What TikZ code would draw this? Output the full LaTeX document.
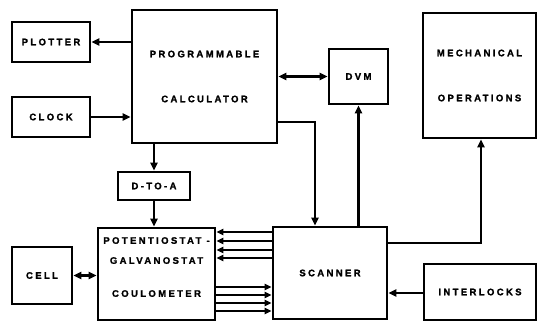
\documentclass[tikz,border=0pt]{standalone}
\usepackage{fontspec}
\newfontfamily\lblfont{Liberation Sans}[LetterSpace=25, FakeBold=1.5]
\usetikzlibrary{arrows.meta}
\tikzset{
  box/.style={draw=black, line width=2.6pt, inner sep=0pt, align=center,
    font=\lblfont\bfseries\fontsize{9.5}{10}\selectfont},
  tip/.style={Triangle[length=8pt,width=7pt]},
  arr/.style={line width=2.6pt, -{Triangle[length=8pt,width=7pt]}},
  darr/.style={line width=2.6pt, {Triangle[length=8pt,width=7pt]}-{Triangle[length=8pt,width=7pt]}}
}
\begin{document}
\begin{tikzpicture}[x=1pt,y=-1pt]
\useasboundingbox (0,0) rectangle (538,322);
\node[box, minimum width=78pt, minimum height=40pt] (plotter) at (51,42) {PLOTTER};
\node[box, minimum width=78pt, minimum height=40pt] (clock) at (51,117) {CLOCK};
\node[box, minimum width=145pt, minimum height=133pt] (calc) at (204.5,76.5) {PROGRAMMABLE\\[35pt]CALCULATOR};
\node[box, minimum width=59pt, minimum height=55pt] (dvm) at (358.5,76.5) {DVM};
\node[box, minimum width=113pt, minimum height=125pt] (mech) at (479.5,75.5) {MECHANICAL\\[35pt]OPERATIONS};
\node[box, minimum width=72pt, minimum height=28pt] (dioa) at (154,186) {D-TO-A};
\node[box, minimum width=117pt, minimum height=92pt] (pot) at (156.5,274) {POTENTIOSTAT -\\[10pt]GALVANOSTAT\\[23pt]COULOMETER\\[4pt]\mbox{}};
\node[box, minimum width=60pt, minimum height=57pt] (cell) at (42,275.5) {CELL};
\node[box, minimum width=114pt, minimum height=92pt] (scanner) at (330,273) {SCANNER};
\node[box, minimum width=112pt, minimum height=56pt] (inter) at (480,292) {INTERLOCKS};

\draw[arr] (calc.west |- plotter) -- (plotter.east);
\draw[arr] (clock.east) -- (calc.west |- clock);
\draw[darr] (calc.east |- dvm) -- (dvm.west);
\draw[darr] (cell.east) -- (pot.west |- cell);
\draw[arr] (calc.south -| dioa) -- (dioa.north);
\draw[arr] (dioa.south) -- (pot.north -| dioa);
\draw[arr] (calc.east |- 0,122) -| (scanner.north -| 315,0);
\draw[arr] (scanner.north -| dvm) -- (dvm.south);
\draw[arr] (scanner.east |- 0,243) -| (mech.south -| 481,0);
\draw[arr] (inter.west |- 0,293) -- (scanner.east |- 0,293);
\foreach \y in {232,241,250,258}
  \draw[line width=2.2pt, -{Triangle[length=7pt,width=6pt]}] (scanner.west |- 0,\y) -- (pot.east |- 0,\y);
\foreach \y in {287,295,303,311}
  \draw[line width=2.2pt, -{Triangle[length=7pt,width=6pt]}] (pot.east |- 0,\y) -- (scanner.west |- 0,\y);
\end{tikzpicture}
\end{document}
